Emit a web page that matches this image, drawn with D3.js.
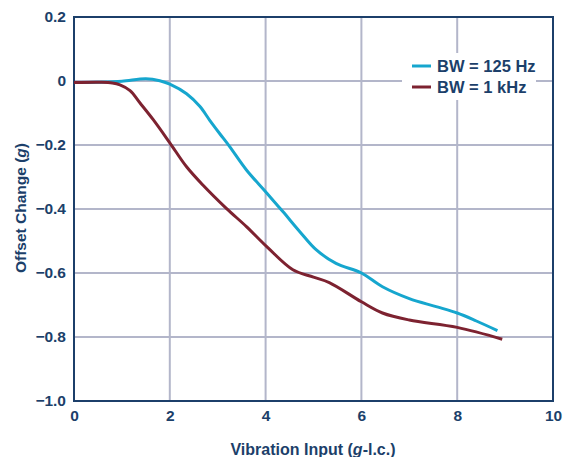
<!DOCTYPE html>
<html>
<head>
<meta charset="utf-8">
<script src="https://cdn.jsdelivr.net/npm/d3@7"></script>
<style>
  body { margin: 0; background: #fff; }
  text { font-family: "Liberation Sans", Arial, sans-serif; font-weight: bold; fill: #1c3f6a; }
</style>
</head>
<body>
<svg id="chart" width="569" height="457"></svg>
<script>
// values
const xTicks = [0, 2, 4, 6, 8, 10]
const yTicks = [0.2, 0, -0.2, -0.4, -0.6, -0.8, -1.0]

const bw125X = [0, 0.5, 1.0, 1.5, 1.79, 2.0, 2.35, 2.63, 2.83, 3.04, 3.25, 3.6, 4.0, 4.36, 4.71, 5.06, 5.47, 6.0, 6.44, 7.0, 7.56, 8.0, 8.4, 8.84]
const bw125Y = [-0.005, -0.004, -0.001, 0.007, 0.001, -0.01, -0.04, -0.08, -0.122, -0.164, -0.205, -0.278, -0.346, -0.408, -0.47, -0.528, -0.57, -0.6, -0.643, -0.68, -0.705, -0.725, -0.75, -0.78]

const bw1kX = [0, 0.54, 0.8, 0.96, 1.17, 1.375, 1.65, 2.0, 2.35, 2.69, 3.18, 3.6, 4.04, 4.57, 5.0, 5.33, 6.0, 6.44, 7.0, 8.0, 8.94]
const bw1kY = [-0.005, -0.004, -0.006, -0.012, -0.03, -0.068, -0.12, -0.193, -0.268, -0.325, -0.398, -0.455, -0.52, -0.59, -0.613, -0.63, -0.69, -0.725, -0.747, -0.77, -0.807]

const seriesNames = ['BW = 125 Hz', 'BW = 1 kHz']
const seriesColors = ['#16a6ce', '#7d2230']

const navy = '#1c3f6a'
const gridColor = '#b3b6ca'

const margin = { left: 74, right: 16, top: 17, bottom: 56 }
const width = 569
const height = 457

const svg = d3.select('#chart')

const x = d3.scaleLinear().domain([0, 10]).range([margin.left, width - margin.right])
const y = d3.scaleLinear().domain([-1, 0.2]).range([height - margin.bottom, margin.top])

// grid
const grid = svg.append('g')
grid.selectAll('line.vx')
  .data(xTicks.slice(1, -1))
  .enter()
  .append('line')
  .attr('x1', (d) => x(d))
  .attr('x2', (d) => x(d))
  .attr('y1', y(0.2))
  .attr('y2', y(-1))
  .attr('stroke', gridColor)
  .attr('stroke-width', 2)
grid.selectAll('line.hy')
  .data(yTicks.slice(1, -1))
  .enter()
  .append('line')
  .attr('x1', x(0))
  .attr('x2', x(10))
  .attr('y1', (d) => y(d))
  .attr('y2', (d) => y(d))
  .attr('stroke', gridColor)
  .attr('stroke-width', 2)

// axes
const fmtY = (d) => (d === 0 ? '0' : d3.format('.1f')(d).replace('-', '\u2013'))

const yAxis = svg.append('g')
  .attr('transform', 'translate(' + x(0) + ',0)')
  .call(d3.axisLeft(y).tickValues(yTicks).tickSize(0).tickPadding(8).tickFormat(fmtY))
const xAxis = svg.append('g')
  .attr('transform', 'translate(0,' + y(-1) + ')')
  .call(d3.axisBottom(x).tickValues(xTicks).tickSize(0).tickPadding(9).tickFormat(d3.format('d')))

;[xAxis, yAxis].forEach((a) => {
  a.select('.domain').remove()
  a.selectAll('text').attr('font-size', 15.5).attr('fill', navy).attr('font-family', 'Arial, "Liberation Sans", sans-serif')
})

// frame
svg.append('rect')
  .attr('x', x(0))
  .attr('y', y(0.2))
  .attr('width', x(10) - x(0))
  .attr('height', y(-1) - y(0.2))
  .attr('fill', 'none')
  .attr('stroke', navy)
  .attr('stroke-width', 2)

// lines
const line = d3.line()
  .x((d) => x(d[0]))
  .y((d) => y(d[1]))
  .curve(d3.curveCatmullRom.alpha(0.5))

const series = [d3.zip(bw125X, bw125Y), d3.zip(bw1kX, bw1kY)]

svg.append('g')
  .selectAll('path')
  .data(series)
  .enter()
  .append('path')
  .attr('d', line)
  .attr('fill', 'none')
  .attr('stroke', (d, i) => seriesColors[i])
  .attr('stroke-width', 3)

// legend
const legend = svg.append('g')
legend.append('rect')
  .attr('x', 402)
  .attr('y', 53)
  .attr('width', 134)
  .attr('height', 47)
  .attr('fill', '#fff')
const items = legend.selectAll('g')
  .data(seriesNames)
  .enter()
  .append('g')
  .attr('transform', (d, i) => 'translate(412,' + (66 + i * 21) + ')')
items.append('line')
  .attr('x1', 0)
  .attr('x2', 19)
  .attr('stroke', (d, i) => seriesColors[i])
  .attr('stroke-width', 3)
items.append('text')
  .attr('x', 25)
  .attr('dy', '0.35em')
  .attr('font-size', 16.5)
  .text((d) => d)

// axis titles
svg.append('text')
  .attr('x', 313)
  .attr('y', 455)
  .attr('text-anchor', 'middle')
  .attr('font-size', 16)
  .call((t) => {
    t.append('tspan').text('Vibration Input (')
    t.append('tspan').attr('font-style', 'italic').text('g')
    t.append('tspan').text('-l.c.)')
  })

svg.append('text')
  .attr('transform', 'translate(26,208) rotate(-90)')
  .attr('text-anchor', 'middle')
  .attr('font-size', 15.5)
  .call((t) => {
    t.append('tspan').text('Offset Change (')
    t.append('tspan').attr('font-style', 'italic').text('g')
    t.append('tspan').text(')')
  })
</script>
</body>
</html>
